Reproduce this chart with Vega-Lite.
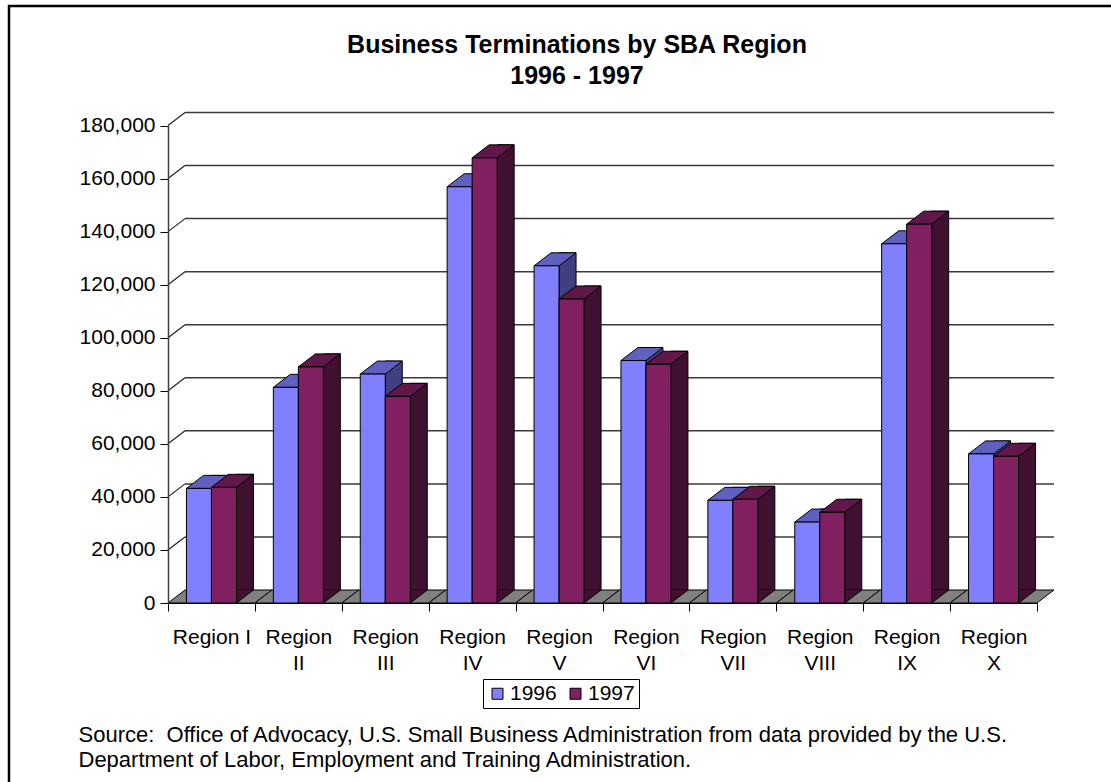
{
  "$schema": "https://vega.github.io/schema/vega-lite/v6.json",
  "autosize": "none",
  "padding": {"left": 9, "top": 6, "right": 0, "bottom": 0},
  "width": 1104,
  "height": 780,
  "background": "white",
  "title": {
    "text": ["Business Terminations by SBA Region", "1996 - 1997"],
    "anchor": "middle",
    "frame": "group",
    "dx": 16,
    "offset": -83,
    "fontSize": 25,
    "fontWeight": "bold",
    "lineHeight": 31,
    "color": "black"
  },
  "datasets": {
    "terminations": [
      {"region": "Region I", "year": "1996", "value": 43200},
      {"region": "Region I", "year": "1997", "value": 43600},
      {"region": "Region II", "year": "1996", "value": 81300},
      {"region": "Region II", "year": "1997", "value": 89000},
      {"region": "Region III", "year": "1996", "value": 86300},
      {"region": "Region III", "year": "1997", "value": 77900},
      {"region": "Region IV", "year": "1996", "value": 156900},
      {"region": "Region IV", "year": "1997", "value": 167800},
      {"region": "Region V", "year": "1996", "value": 127100},
      {"region": "Region V", "year": "1997", "value": 114600},
      {"region": "Region VI", "year": "1996", "value": 91400},
      {"region": "Region VI", "year": "1997", "value": 90000},
      {"region": "Region VII", "year": "1996", "value": 38700},
      {"region": "Region VII", "year": "1997", "value": 39100},
      {"region": "Region VIII", "year": "1996", "value": 30500},
      {"region": "Region VIII", "year": "1997", "value": 34200},
      {"region": "Region IX", "year": "1996", "value": 135400},
      {"region": "Region IX", "year": "1997", "value": 142800},
      {"region": "Region X", "year": "1996", "value": 56200},
      {"region": "Region X", "year": "1997", "value": 55300}
    ],
    "grid": [
      {"v": 0}, {"v": 20000}, {"v": 40000}, {"v": 60000}, {"v": 80000},
      {"v": 100000}, {"v": 120000}, {"v": 140000}, {"v": 160000}, {"v": 180000}
    ]
  },
  "layer": [
    {
      "data": {"name": "terminations"},
      "transform": [{"filter": "datum.year == '1996'"}],
      "mark": {"type": "point", "shape": "M -43.45 0 L 43.45 0 L 60.45 -13 L -26.45 -13 Z", "size": 4, "filled": true, "fill": "#808080", "stroke": "black", "strokeWidth": 1, "opacity": 1},
      "encoding": {
        "x": {"field": "region", "type": "nominal", "sort": null,
          "scale": {"domain": ["Region I", "Region II", "Region III", "Region IV", "Region V", "Region VI", "Region VII", "Region VIII", "Region IX", "Region X"], "range": [159, 1028], "paddingInner": 0, "paddingOuter": 0}},
        "y": {"datum": 0, "type": "quantitative"}
      }
    },
    {
      "data": {"name": "grid"},
      "transform": [{"filter": "datum.v > 0"}],
      "mark": {"type": "rule", "xOffset": 17, "x2Offset": 17, "yOffset": -13, "color": "#3a3a3a", "strokeWidth": 1.5},
      "encoding": {
        "x": {"datum": "Region I", "type": "nominal", "bandPosition": 0},
        "x2": {"datum": "Region X", "bandPosition": 1},
        "y": {"field": "v", "type": "quantitative"}
      }
    },
    {
      "data": {"name": "grid"},
      "transform": [{"filter": "datum.v > 0"}],
      "mark": {"type": "rule", "x2Offset": 17, "y2Offset": -13, "color": "#222", "strokeWidth": 1.2},
      "encoding": {
        "x": {"datum": "Region I", "type": "nominal", "bandPosition": 0},
        "x2": {"datum": "Region I", "bandPosition": 0},
        "y": {"field": "v", "type": "quantitative"},
        "y2": {"field": "v"}
      }
    },
    {
      "data": {"name": "terminations"},
      "transform": [{"filter": "datum.year == '1996'"}],
      "mark": {"type": "bar", "width": 17, "xOffset": 8.5, "yOffset": -13, "y2Offset": -13, "fill": "#404080", "stroke": "black", "strokeWidth": 1},
      "encoding": {
        "x": {"field": "region", "type": "nominal", "sort": null},
        "y": {"field": "value", "type": "quantitative"},
        "y2": {"datum": 0}
      }
    },
    {
      "data": {"name": "terminations"},
      "transform": [{"filter": "datum.year == '1997'"}],
      "mark": {"type": "bar", "width": 17, "xOffset": 33.5, "yOffset": -13, "y2Offset": -13, "fill": "#401030", "stroke": "black", "strokeWidth": 1},
      "encoding": {
        "x": {"field": "region", "type": "nominal", "sort": null},
        "y": {"field": "value", "type": "quantitative"},
        "y2": {"datum": 0}
      }
    },
    {
      "data": {"name": "terminations"},
      "mark": {"type": "point", "shape": "M 12.5 -13 L 12.5 0 L 29.5 -13", "size": 4, "filled": true, "stroke": "black", "strokeWidth": 1, "opacity": 1},
      "encoding": {
        "x": {"field": "region", "type": "nominal", "sort": null},
        "xOffset": {"field": "year", "type": "nominal", "scale": {"paddingInner": 0, "paddingOuter": 0.738}},
        "y": {"datum": 0, "type": "quantitative"},
        "fill": {"condition": {"test": "datum.year == '1996'", "value": "#404080"}, "value": "#401030"}
      }
    },
    {
      "data": {"name": "terminations"},
      "mark": {"type": "point", "shape": "M -12.5 0 L 12.5 0 L 29.5 -13 L 4.5 -13 Z", "size": 4, "filled": true, "stroke": "black", "strokeWidth": 1, "opacity": 1},
      "encoding": {
        "x": {"field": "region", "type": "nominal", "sort": null},
        "xOffset": {"field": "year", "type": "nominal"},
        "y": {"field": "value", "type": "quantitative"},
        "fill": {"condition": {"test": "datum.year == '1996'", "value": "#6060C0"}, "value": "#60184A"}
      }
    },
    {
      "data": {"name": "terminations"},
      "mark": {"type": "bar", "stroke": "black", "strokeWidth": 1},
      "encoding": {
        "x": {"field": "region", "type": "nominal", "sort": null,
          "axis": {
            "orient": "bottom", "offset": -183, "zindex": 1,
            "tickBand": "extent", "tickSize": 8, "tickColor": "black", "domainColor": "black", "domainWidth": 1.2,
            "labelAngle": 0, "labelAlign": "center", "labelBaseline": "top", "labelFontSize": 21, "labelColor": "black",
            "labelPadding": 15, "labelLineHeight": 26, "labelLimit": 200,
            "labelExpr": "!datum.label ? '' : (datum.label == 'Region I' ? datum.label : split(datum.label, ' '))",
            "title": ["Source:\u00a0 Office of Advocacy, U.S. Small Business Administration from data provided by the U.S.", "Department of Labor, Employment and Training Administration."],
            "titleFontSize": 22, "titleFontWeight": "normal", "titleColor": "black", "titleAlign": "left", "titleAnchor": "start",
            "titleBaseline": "top", "titleLineHeight": 25, "titleX": 69, "titleY": 121
          }},
        "xOffset": {"field": "year", "type": "nominal"},
        "y": {"field": "value", "type": "quantitative",
          "scale": {"domain": [0, 180000], "range": [597, 119.5], "nice": false, "zero": true},
          "axis": {
            "orient": "left", "offset": -159, "zindex": 1,
            "values": [0, 20000, 40000, 60000, 80000, 100000, 120000, 140000, 160000, 180000],
            "format": ",d", "grid": false, "title": null,
            "tickSize": 8, "tickColor": "black", "domainColor": "#404040", "domainWidth": 1.5,
            "labelFontSize": 21, "labelColor": "black", "labelPadding": 5
          }},
        "color": {"field": "year", "type": "nominal",
          "scale": {"domain": ["1996", "1997"], "range": ["#8080FF", "#802060"]},
          "legend": {
            "orient": "none", "legendX": 474, "legendY": 673, "direction": "horizontal",
            "title": null, "strokeColor": "black", "fillColor": "white", "padding": 4,
            "symbolType": "square", "symbolSize": 121, "symbolStrokeColor": "black", "symbolStrokeWidth": 1,
            "labelFontSize": 21, "labelColor": "black", "labelOffset": 2, "columnPadding": 8
          }}
      }
    }
  ],
  "config": {
    "font": "Liberation Sans",
    "view": {"stroke": "black", "strokeWidth": 2.5},
    "axis": {"grid": false}
  }
}
